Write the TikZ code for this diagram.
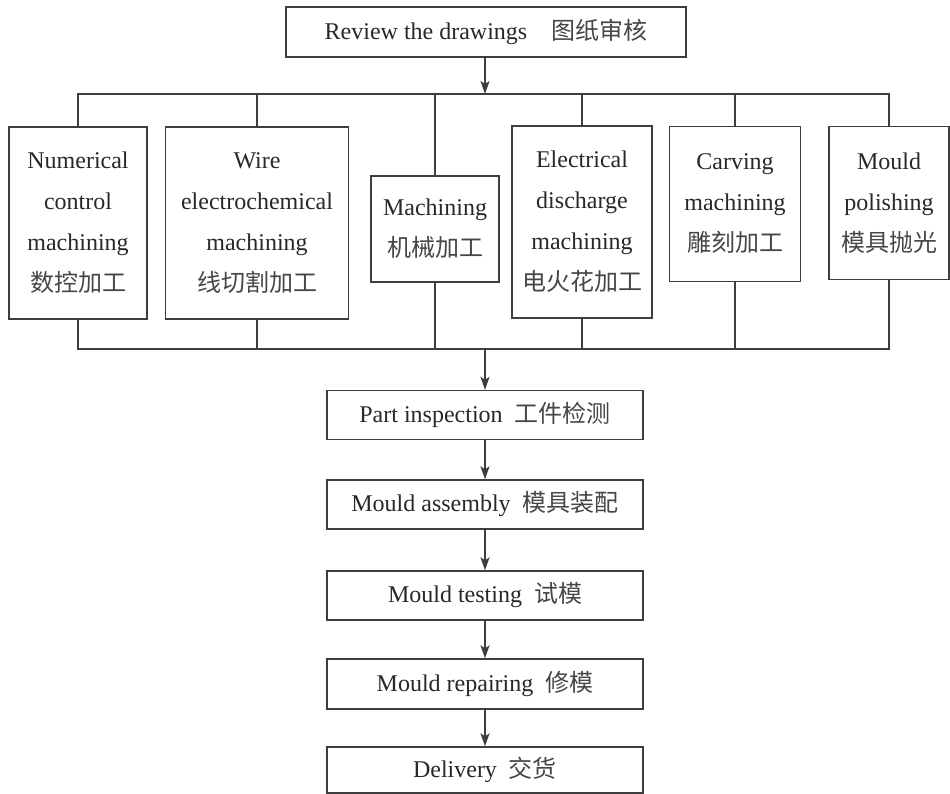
\documentclass[tikz,border=0pt]{standalone}
\usepackage{fontspec}
\setmainfont{Liberation Serif}
\newfontfamily\cjk{Noto Sans CJK SC}
\usetikzlibrary{arrows.meta,positioning}
\definecolor{flowLine}{RGB}{62,62,62}
\definecolor{flowText}{RGB}{40,40,40}
\definecolor{flowCjk}{RGB}{70,70,70}
\tikzset{
  stepbox/.style={draw=flowLine, line width=1.4pt, text=flowText, inner sep=0pt,
    align=center, font=\fontsize{24}{41}\selectfont},
  flow/.style={draw=flowLine, line width=1.4pt},
  flowarrow/.style={flow, -{Stealth[length=13pt,width=9pt,inset=3pt]}}
}
\newcommand{\zh}[1]{{\cjk\color{flowCjk}#1}}

\begin{document}
\begin{tikzpicture}[x=1pt,y=-1pt]
\useasboundingbox (0,0) rectangle (950,794);
\fill[white] (0,0) rectangle (950,794);

% top: review
\node[stepbox, minimum width=400pt, minimum height=50pt] (review) at (486,32)
  {Review the drawings\quad\zh{图纸审核}};
\coordinate (topbus) at (485,94);
\coordinate (botbus) at (485,349);

% middle: parallel machining steps
\node[stepbox, minimum width=138pt, minimum height=192pt] (nc) at (78,223)
  {Numerical\\control\\machining\\\zh{数控加工}};
\node[stepbox, minimum width=183pt, minimum height=192pt] (wire) at (257,223)
  {Wire\\electrochemical\\machining\\\zh{线切割加工}};
\node[stepbox, minimum width=128pt, minimum height=106pt] (mach) at (435,229)
  {Machining\\\zh{机械加工}};
\node[stepbox, minimum width=140pt, minimum height=192pt] (edm) at (582,222)
  {Electrical\\discharge\\machining\\\zh{电火花加工}};
\node[stepbox, minimum width=131pt, minimum height=155pt] (carve) at (735,204)
  {Carving\\machining\\\zh{雕刻加工}};
\node[stepbox, minimum width=120pt, minimum height=153pt] (polish) at (889,203)
  {Mould\\polishing\\\zh{模具抛光}};

\draw[flowarrow] (review.south -| topbus) -- (topbus);
\draw[flow] (nc.north) -- (nc.north |- topbus) -- (polish.north |- topbus) -- (polish.north);
\draw[flow] (nc.south) -- (nc.south |- botbus) -- (polish.south |- botbus) -- (polish.south);
\foreach \b in {wire,mach,edm,carve}{
  \draw[flow] (\b.north) -- (\b.north |- topbus);
  \draw[flow] (\b.south) -- (\b.south |- botbus);
}

% bottom: checking and delivery
\node[stepbox, minimum width=316pt, minimum height=49pt] (part) at (485,415)
  {Part inspection\enspace\zh{工件检测}};
\node[stepbox, minimum width=316pt, minimum height=49pt] (assembly) at (485,504.5)
  {Mould assembly\enspace\zh{模具装配}};
\node[stepbox, minimum width=316pt, minimum height=49pt] (testing) at (485,595.5)
  {Mould testing\enspace\zh{试模}};
\node[stepbox, minimum width=316pt, minimum height=50pt] (repair) at (485,684)
  {Mould repairing\enspace\zh{修模}};
\node[stepbox, minimum width=316pt, minimum height=46pt] (delivery) at (485,770)
  {Delivery\enspace\zh{交货}};

\draw[flowarrow] (botbus) -- (part.north);
\draw[flowarrow] (part) -- (assembly);
\draw[flowarrow] (assembly) -- (testing);
\draw[flowarrow] (testing) -- (repair);
\draw[flowarrow] (repair) -- (delivery);
\end{tikzpicture}
\end{document}
